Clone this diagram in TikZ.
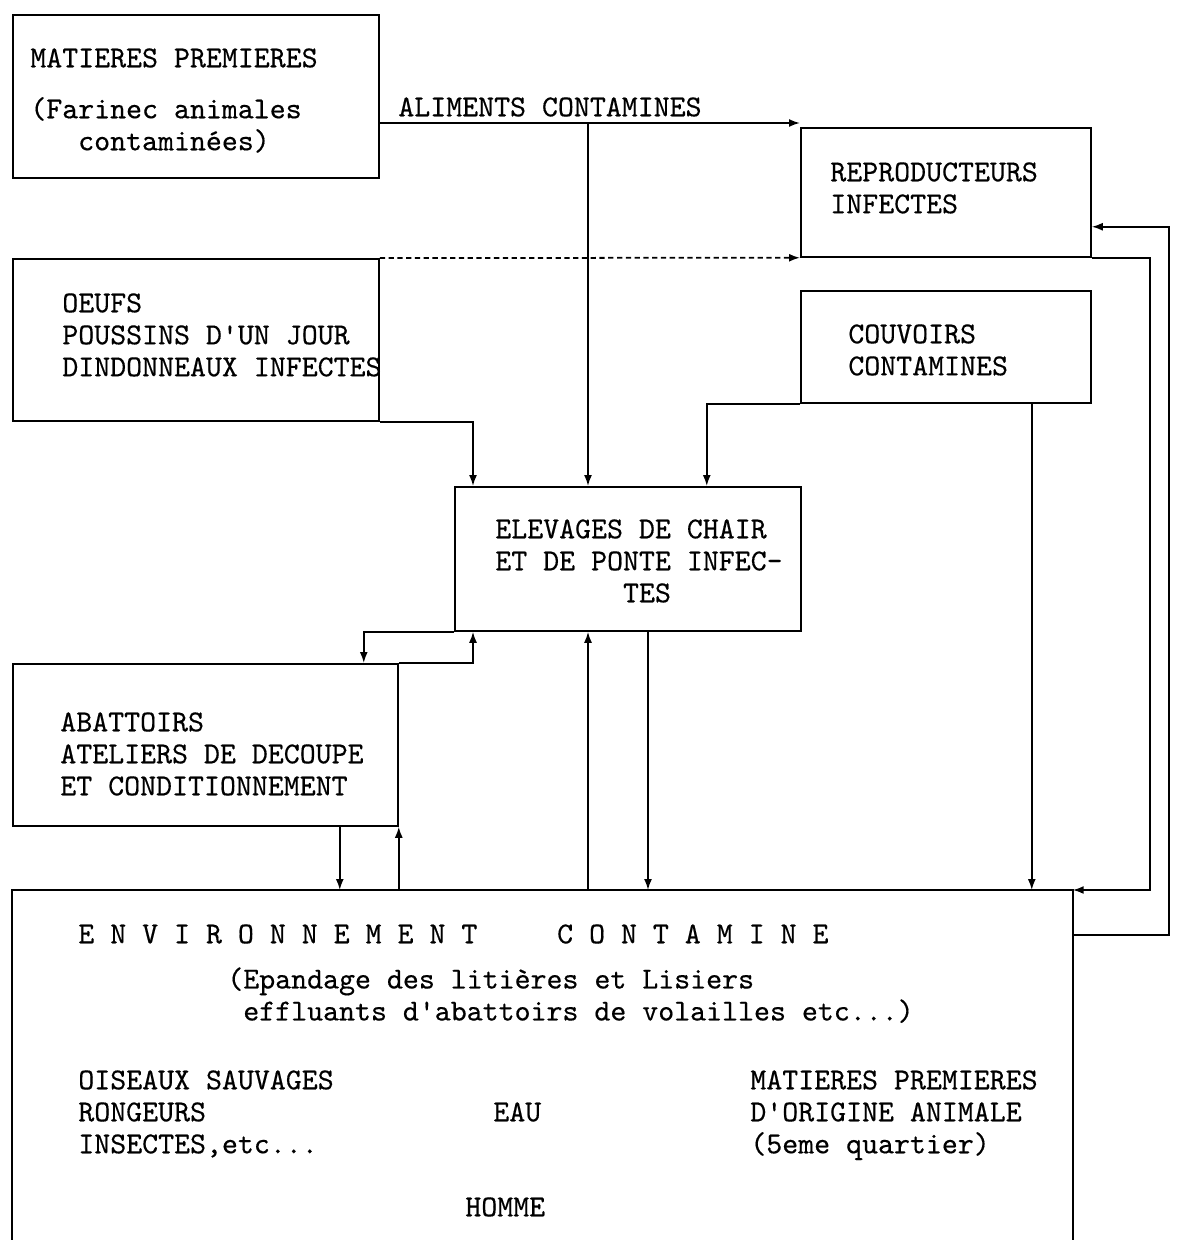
\documentclass[tikz,border=0pt]{standalone}
\usepackage{fontspec}
\setmonofont{lmmono10-regular}[Extension=.otf, FakeBold=0.4]
\usetikzlibrary{arrows.meta, calc}

\begin{document}
\begin{tikzpicture}[
    x=0.2mm, y=-0.2mm,
    box/.style={rectangle, draw=black, line width=1pt, anchor=north west, inner sep=0pt},
    txt/.style={font=\ttfamily\fontsize{17.3}{18.2}\selectfont, align=left, anchor=north west, inner sep=0pt},
    link/.style={line width=1pt},
    arrow/.style={-{Latex[length=2.2mm, width=1.6mm]}, line width=1pt}
  ]
  \useasboundingbox (0,0) rectangle (1189,1240);

  % boxes
  \node[box, minimum width=73.2mm, minimum height=32.6mm] (mp) at (12,14) {};
  \node[box, minimum width=73.2mm, minimum height=32.4mm] (oeufs) at (12,258) {};
  \node[box, minimum width=58mm, minimum height=25.8mm] (repro) at (800,127) {};
  \node[box, minimum width=58mm, minimum height=22.4mm] (couv) at (800,290) {};
  \node[box, minimum width=69.2mm, minimum height=28.8mm] (elev) at (454,486) {};
  \node[box, minimum width=77mm, minimum height=32.4mm] (abat) at (12,663) {};
  \node[anchor=north west, inner sep=0pt, minimum width=212mm, minimum height=70mm] (env) at (12,890) {};
  \draw[link] (env.south west) -- (env.north west) -- (env.north east) -- (env.south east);

  % texts
  \node[txt] (mptxt) at (30,48) {MATIERES PREMIERES\\[3.8mm](Farinec animales\\~~~contaminées)};
  \node[txt] (oeufstxt) at (62,293) {OEUFS\\POUSSINS D'UN JOUR\\DINDONNEAUX INFECTES};
  \node[txt] (reprotxt) at (830,162) {REPRODUCTEURS\\INFECTES};
  \node[txt] (couvtxt) at (848,324) {COUVOIRS\\CONTAMINES};
  \node[txt] (elevtxt) at (495,519) {ELEVAGES DE CHAIR\\ET DE PONTE INFEC-\\~~~~~~~~TES};
  \node[txt] (abattxt) at (60,712) {ABATTOIRS\\ATELIERS DE DECOUPE\\ET CONDITIONNEMENT};
  \node[txt] (alimtxt) at (398,97) {ALIMENTS CONTAMINES};
  \node[txt] (envtitle) at (78,924) {E N V I R O N N E M E N T~~~~~C O N T A M I N E};
  \node[txt] (envnote) at (227,967) {(Epandage des litières et Lisiers\\~effluants d'abattoirs de volailles etc...)};
  \node[txt] (fauna) at (78,1070) {OISEAUX SAUVAGES\\RONGEURS\\INSECTES,etc...};
  \node[txt] (eau) at (493,1102) {EAU};
  \node[txt] (mpanim) at (750,1070) {MATIERES PREMIERES\\D'ORIGINE ANIMALE\\(5eme quartier)};
  \node[txt] (homme) at (465,1197) {HOMME};

  % connectors
  \coordinate (alim) at (588,123);
  \coordinate (oeufsin) at ($(elev.north west)+(19,0)$);
  \coordinate (couvin) at ($(elev.north east)+(-95,0)$);
  \coordinate (couvout) at ($(couv.south east)+(-60,0)$);
  \coordinate (elevout) at ($(elev.south west)+(194,0)$);
  \coordinate (elevin) at ($(elev.south west)+(134,0)$);
  \coordinate (abatin) at ($(abat.north east)+(-35,0)$);
  \coordinate (abatret) at ($(elev.south west)+(19,0)$);
  \coordinate (abatout) at ($(abat.south east)+(-59,0)$);
  \coordinate (reproout) at ($(repro.south east)+(58,0)$);
  \coordinate (reproin) at ($(repro.south east)+(0,-31)$);
  \coordinate (envside) at ($(env.north east)+(0,45)$);

  \draw[arrow] (mp.east |- alim) -- (repro.west |- alim);
  \draw[arrow] (alim) -- (alim |- elev.north);
  \draw[arrow, densely dashed] (oeufs.north east) -- (repro.south west);
  \draw[arrow] (oeufs.south east) -| (oeufsin);
  \draw[arrow] (couv.south west) -| (couvin);
  \draw[arrow] (couvout) -- (couvout |- env.north);
  \draw[arrow] (elev.south west) -| (abatin);
  \draw[arrow] (abat.north east) -| (abatret);
  \draw[arrow] (abatout) -- (abatout |- env.north);
  \draw[arrow] (abat.south east |- env.north) -- (abat.south east);
  \draw[arrow] (elevout) -- (elevout |- env.north);
  \draw[arrow] (elevin |- env.north) -- (elevin);
  \draw[arrow] (repro.south east) -- (reproout) |- (env.north east);
  \draw[arrow] (envside) -- ++(96,0) |- (reproin);
\end{tikzpicture}
\end{document}
